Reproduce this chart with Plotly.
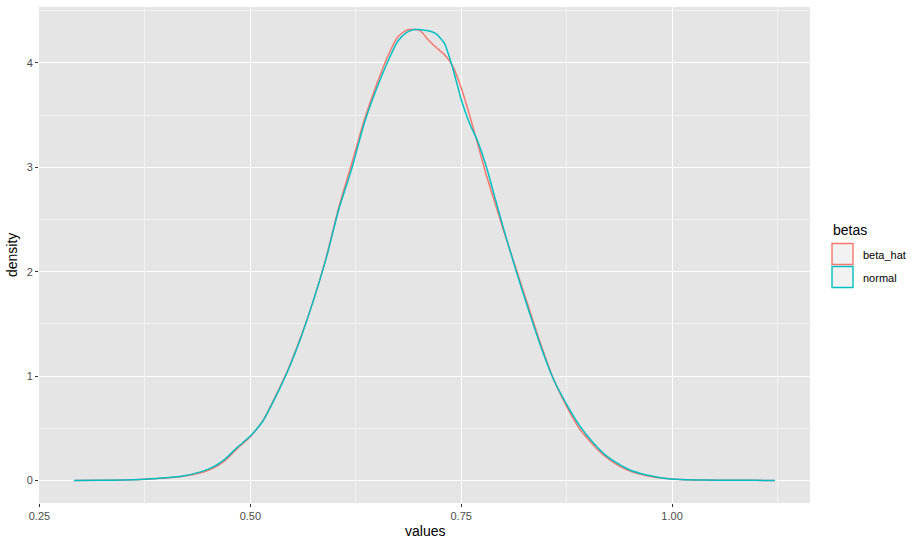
import plotly.graph_objects as go

# Values
x_vals = [0.291, 0.32, 0.35, 0.375, 0.40, 0.42, 0.44, 0.455, 0.47, 0.485,
          0.50, 0.515, 0.53, 0.545, 0.56, 0.575, 0.59, 0.605, 0.62, 0.635,
          0.65, 0.665, 0.675, 0.685, 0.69, 0.695, 0.70, 0.705, 0.71, 0.72,
          0.73, 0.74, 0.75, 0.76, 0.77, 0.78, 0.79, 0.80, 0.815, 0.83,
          0.845, 0.86, 0.875, 0.89, 0.905, 0.92, 0.935, 0.95, 0.97, 0.99,
          1.01, 1.04, 1.07, 1.10, 1.122]

beta_hat = [0.000, 0.001, 0.004, 0.012, 0.024, 0.040, 0.072, 0.115, 0.190, 0.310,
            0.420, 0.575, 0.810, 1.070, 1.380, 1.730, 2.140, 2.620, 3.030, 3.450,
            3.800, 4.100, 4.250, 4.315, 4.320, 4.320, 4.315, 4.280, 4.230, 4.150,
            4.080, 3.970, 3.760, 3.500, 3.210, 2.920, 2.660, 2.400, 2.030, 1.660,
            1.290, 0.960, 0.710, 0.500, 0.355, 0.235, 0.150, 0.090, 0.045, 0.020,
            0.009, 0.004, 0.002, 0.001, 0.000]

normal = [0.000, 0.001, 0.004, 0.012, 0.025, 0.042, 0.080, 0.125, 0.205, 0.320,
          0.425, 0.570, 0.800, 1.060, 1.370, 1.730, 2.130, 2.600, 2.980, 3.420,
          3.760, 4.050, 4.210, 4.290, 4.310, 4.320, 4.320, 4.315, 4.310, 4.280,
          4.190, 3.950, 3.650, 3.420, 3.240, 3.000, 2.710, 2.420, 2.010, 1.630,
          1.270, 0.960, 0.730, 0.530, 0.375, 0.250, 0.165, 0.100, 0.052, 0.022,
          0.010, 0.004, 0.002, 0.001, 0.000]

series_names = ["beta_hat", "normal"]
series_colors = ["#F8766D", "#00BFC4"]
x_ticks = [0.25, 0.50, 0.75, 1.00]
y_ticks = [0, 1, 2, 3, 4]

FONT = "Liberation Sans, Arial, Helvetica, sans-serif"

fig = go.Figure()
for name, ys, col in zip(series_names, [beta_hat, normal], series_colors):
    fig.add_trace(go.Scatter(x=x_vals, y=ys, mode="lines", name=name,
                             line=dict(color=col, width=1.5, shape="spline", smoothing=0.6),
                             showlegend=False, hoverinfo="skip"))

xmin, xmax = min(x_vals), max(x_vals)
xpad = 0.05 * (xmax - xmin)
ymax = max(max(beta_hat), max(normal))
ypad = 0.05 * ymax

W, H = 922, 546
ml, mr, mt, mb = 39, 112, 7, 43
pw, ph = W - ml - mr, H - mt - mb

def px2paper(px, py):
    return (px - ml) / pw, (H - mb - py) / ph

fig.update_layout(
    width=W, height=H,
    margin=dict(l=ml, r=mr, t=mt, b=mb, pad=0, autoexpand=False),
    paper_bgcolor="white",
    plot_bgcolor="#E5E5E5",
    font=dict(family=FONT, color="#4D4D4D", size=11),
    xaxis=dict(range=[xmin - xpad, xmax + xpad], tickvals=x_ticks,
               ticktext=[f"{v:.2f}" for v in x_ticks], automargin=False,
               showgrid=True, gridcolor="white", gridwidth=1.2, zeroline=False,
               ticks="outside", ticklen=3, tickwidth=1, tickcolor="#333333",
               tickfont=dict(size=11, color="#4D4D4D"), showline=False,
               minor=dict(tickvals=[0.375, 0.625, 0.875, 1.125], showgrid=True,
                          gridcolor="#F2F2F2", gridwidth=0.6, ticks="")),
    yaxis=dict(range=[-ypad, ymax + ypad], tickvals=y_ticks,
               ticktext=[str(v) for v in y_ticks], automargin=False,
               showgrid=True, gridcolor="white", gridwidth=1.2, zeroline=False,
               ticks="outside", ticklen=3, tickwidth=1, tickcolor="#333333",
               tickfont=dict(size=11, color="#4D4D4D"), showline=False,
               minor=dict(tickvals=[0.5, 1.5, 2.5, 3.5, 4.5], showgrid=True,
                          gridcolor="#F2F2F2", gridwidth=0.6, ticks="")),
)

annotations = []
# axis titles
annotations.append(dict(text="values", xref="paper", yref="paper",
                        x=0.5, y=px2paper(0, 531)[1], xanchor="center", yanchor="middle",
                        showarrow=False, font=dict(size=14, color="black", family=FONT)))
annotations.append(dict(text="density", xref="paper", yref="paper",
                        x=px2paper(12, 0)[0], y=0.5, xanchor="center", yanchor="middle",
                        textangle=-90, showarrow=False,
                        font=dict(size=14, color="black", family=FONT)))
# legend
annotations.append(dict(text="betas", xref="paper", yref="paper",
                        x=px2paper(831, 0)[0], y=px2paper(0, 230)[1],
                        xanchor="left", yanchor="middle", showarrow=False,
                        font=dict(size=14, color="black", family=FONT)))
shapes = []
key_tops = [243.5, 266.5]
for name, col, top in zip(series_names, series_colors, key_tops):
    x0, y0 = px2paper(832, top + 21)
    x1, y1 = px2paper(853, top)
    shapes.append(dict(type="rect", xref="paper", yref="paper", x0=x0, x1=x1, y0=y0, y1=y1,
                       fillcolor="#F2F2F2", line=dict(color=col, width=1.4)))
    annotations.append(dict(text=name, xref="paper", yref="paper",
                            x=px2paper(861, 0)[0], y=px2paper(0, top + 11)[1],
                            xanchor="left", yanchor="middle", showarrow=False,
                            font=dict(size=11, color="black", family=FONT)))

fig.update_layout(annotations=annotations, shapes=shapes)
fig.write_html("out.html", config={"displayModeBar": False})

# remove the default page margin so the figure sits at the window's top-left corner
with open("out.html", "r", encoding="utf-8") as f:
    html = f.read()
html = html.replace("<head>", "<head><style>html,body{margin:0;padding:0;overflow:hidden;}</style>", 1)
with open("out.html", "w", encoding="utf-8") as f:
    f.write(html)
